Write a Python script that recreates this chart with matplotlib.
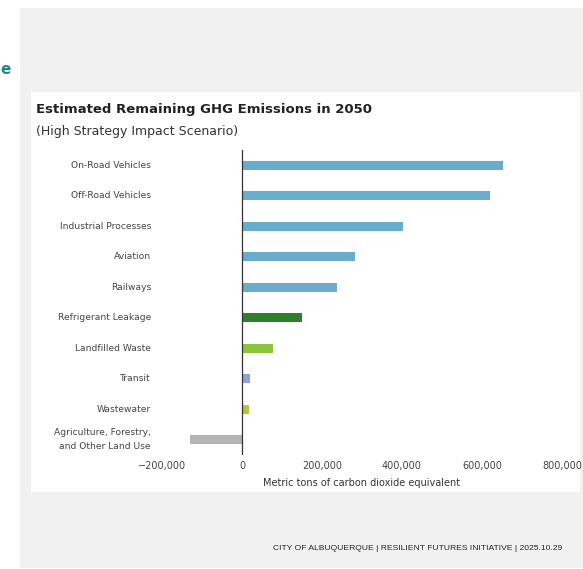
import numpy as np
import matplotlib.pyplot as plt
from matplotlib.patches import Rectangle

categories = ["On-Road Vehicles", "Off-Road Vehicles", "Industrial Processes",
              "Aviation", "Railways", "Refrigerant Leakage", "Landfilled Waste",
              "Transit", "Wastewater", "Agriculture, Forestry,\nand Other Land Use"]
emissions = [652000, 620000, 402000, 282000, 238000, 150000, 78000,
             20000, 18000, -130000]
bar_colors = ["#6aaccd", "#6aaccd", "#6aaccd", "#6aaccd", "#6aaccd",
              "#2f7f2f", "#8cc43c", "#8fa3d4", "#b9c23c", "#b4b4b4"]
xticks = [-200000, 0, 200000, 400000, 600000, 800000]

W, H = 583, 569
fig = plt.figure(figsize=(W / 100, H / 100), dpi=100)
fig.patch.set_facecolor("white")

# slide background + chart card
fig.patches.append(Rectangle((20 / W, 1 - 568 / H), 563 / W, 560 / H,
                             transform=fig.transFigure, facecolor="#f1f1f1",
                             edgecolor="none", zorder=-2))
fig.patches.append(Rectangle((31 / W, 1 - 492 / H), 549 / W, 400 / H,
                             transform=fig.transFigure, facecolor="white",
                             edgecolor="none", zorder=-1))

fig.text(0.5 / W, 1 - 70 / H, "e", color="#1a8a8f", fontsize=11,
         fontweight="bold", va="center", ha="left")

ax = fig.add_axes([162 / W, 1 - 455 / H, 400 / W, 305 / H])
ax.set_facecolor("none")
y = np.arange(len(categories))
ax.barh(y, emissions, height=0.31, color=bar_colors, zorder=2)
ax.axvline(0, color="#333333", lw=0.9, zorder=3)
ax.set_xlim(-200000, 800000)
ax.set_ylim(len(categories) - 0.5, -0.5)
ax.set_yticks(y)
ax.set_yticklabels(categories, fontsize=6.6, color="#444444", linespacing=1.7)
for lbl in ax.get_yticklabels():
    lbl.set_verticalalignment("center")
ax.set_xticks(xticks)
ax.set_xticklabels([f"{v:,}".replace("-", "\u2212") for v in xticks],
                   fontsize=7, color="#444444")
ax.tick_params(length=0, pad=4)
ax.tick_params(axis="y", pad=8)
for s in ax.spines.values():
    s.set_visible(False)
ax.set_xlabel("Metric tons of carbon dioxide equivalent", fontsize=7,
              color="#333333", labelpad=5)

fig.text(36 / W, 1 - 110 / H, "Estimated Remaining GHG Emissions in 2050",
         fontsize=9.5, fontweight="bold", color="#222222", va="center")
fig.text(36 / W, 1 - 131 / H, "(High Strategy Impact Scenario)",
         fontsize=9, color="#333333", va="center")

fig.text(562 / W, 1 - 549 / H,
         "CITY OF ALBUQUERQUE | RESILIENT FUTURES INITIATIVE | 2025.10.29",
         fontsize=6.1, family="Liberation Sans", color="#222222",
         ha="right", va="center")

fig.savefig("out.png", dpi=100)
